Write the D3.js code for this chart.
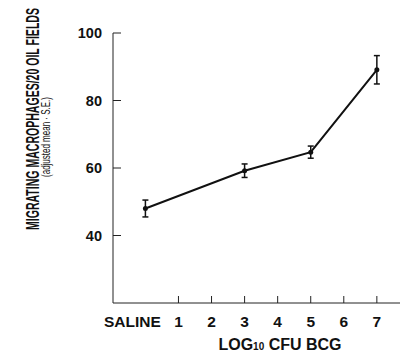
<!DOCTYPE html>
<meta charset="utf-8">
<style>
  body { margin: 0; background: #fff; }
  svg { font-family: "Liberation Sans", Arial, Helvetica, sans-serif; }
  .tick-label { font-weight: bold; fill: #111; }
</style>
<body>
<script src="https://cdn.jsdelivr.net/npm/d3@7"></script>
<script>

var width = 402,
    height = 354;

// data
var doses = [0, 3, 5, 7];              // 0 = saline, others log10 CFU BCG
var means = [48, 59.2, 64.7, 89.1];
var stdErr = [2.5, 2.0, 1.8, 4.2];

var xTicks = [0, 1, 2, 3, 4, 5, 6, 7];
var xTickLabels = ["SALINE", "1", "2", "3", "4", "5", "6", "7"];
var yTicks = [40, 60, 80, 100];

var x = d3.scaleLinear()
    .domain([-0.98, 7.7])
    .range([113, 400]);

var y = d3.scaleLinear()
    .domain([20, 100])
    .range([303, 33]);

var svg = d3.select("body").append("svg")
    .attr("width", width)
    .attr("height", height);

// axes lines
svg.append("line")
    .attr("x1", x(-0.98)).attr("x2", x(-0.98))
    .attr("y1", y(100)).attr("y2", y(20))
    .attr("stroke", "#222").attr("stroke-width", 1);

svg.append("line")
    .attr("x1", x(-0.98)).attr("x2", x(7.7))
    .attr("y1", y(20)).attr("y2", y(20))
    .attr("stroke", "#222").attr("stroke-width", 1);

// y ticks point inward
svg.selectAll(".ytick")
    .data(yTicks)
  .enter().append("line")
    .attr("x1", x(-0.98)).attr("x2", x(-0.98) + 8)
    .attr("y1", function(d) { return y(d); })
    .attr("y2", function(d) { return y(d); })
    .attr("stroke", "#222");

svg.selectAll(".ylab")
    .data(yTicks)
  .enter().append("text")
    .attr("class", "tick-label")
    .attr("font-size", "14.5px")
    .attr("x", x(-0.98) - 11)
    .attr("y", function(d) { return y(d); })
    .attr("dy", "0.36em")
    .attr("text-anchor", "end")
    .text(function(d) { return d; });

// x ticks point up (none at saline)
svg.selectAll(".xtick")
    .data(xTicks.filter(function(d) { return d > 0; }))
  .enter().append("line")
    .attr("x1", function(d) { return x(d); })
    .attr("x2", function(d) { return x(d); })
    .attr("y1", y(20)).attr("y2", y(20) - 7)
    .attr("stroke", "#222");

svg.selectAll(".xlab")
    .data(xTicks)
  .enter().append("text")
    .attr("class", "tick-label")
    .attr("font-size", "15.5px")
    .attr("x", function(d) { return d === 0 ? x(d) - 13 : x(d); })
    .attr("y", 327)
    .attr("text-anchor", "middle")
    .text(function(d, i) { return xTickLabels[i]; });

// x title
var xt = svg.append("text")
    .attr("class", "tick-label")
    .attr("font-size", "16px")
    .attr("x", 280)
    .attr("y", 350)
    .attr("text-anchor", "middle");
xt.append("tspan").text("LOG");
xt.append("tspan").attr("font-size", "10px").text("10");
xt.append("tspan").text(" CFU BCG");

// y title, two lines, squeezed along the text like the print
function condensed(cx, cy, size, weight, len, str) {
  var t = svg.append("text")
      .attr("text-anchor", "middle")
      .attr("font-size", size + "px")
      .attr("font-weight", weight)
      .attr("fill", "#111")
      .text(str);
  var sx = len / t.node().getComputedTextLength();
  t.attr("transform", "translate(" + cx + "," + cy + ")rotate(-90)scale(" + sx + ",1)");
  return t;
}
condensed(39, 119, 18.5, "bold", 222, "MIGRATING MACROPHAGES/20 OIL FIELDS");
condensed(50, 137, 13, "normal", 80, "(adjusted mean \u00b7 S.E.)");

// line
var line = d3.line()
    .x(function(d, i) { return x(doses[i]); })
    .y(function(d) { return y(d); });

svg.append("path")
    .datum(means)
    .attr("d", line)
    .attr("fill", "none")
    .attr("stroke", "#111")
    .attr("stroke-width", 2);

// error bars
var eb = svg.selectAll(".err")
    .data(means)
  .enter().append("g");

eb.append("line")
    .attr("x1", function(d, i) { return x(doses[i]); })
    .attr("x2", function(d, i) { return x(doses[i]); })
    .attr("y1", function(d, i) { return y(d - stdErr[i]); })
    .attr("y2", function(d, i) { return y(d + stdErr[i]); })
    .attr("stroke", "#111").attr("stroke-width", 1.5);

[-1, 1].forEach(function(s) {
  eb.append("line")
    .attr("x1", function(d, i) { return x(doses[i]) - 3; })
    .attr("x2", function(d, i) { return x(doses[i]) + 3; })
    .attr("y1", function(d, i) { return y(d + s * stdErr[i]); })
    .attr("y2", function(d, i) { return y(d + s * stdErr[i]); })
    .attr("stroke", "#111").attr("stroke-width", 1.5);
});

eb.append("circle")
    .attr("cx", function(d, i) { return x(doses[i]); })
    .attr("cy", function(d) { return y(d); })
    .attr("r", 2.5)
    .attr("fill", "#111");

</script>
</body>
</html>
